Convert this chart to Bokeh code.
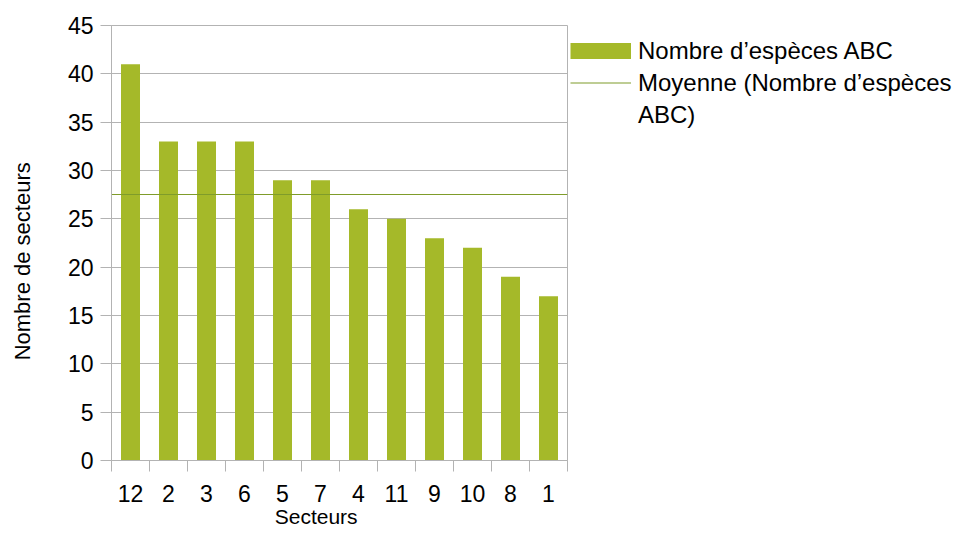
from bokeh.plotting import figure
from bokeh.models import Range1d, LinearAxis, FixedTicker, Legend, LegendItem
from bokeh.embed import file_html
from bokeh.resources import INLINE
import numpy as np

secteurs = ["12", "2", "3", "6", "5", "7", "4", "11", "9", "10", "8", "1"]
especes = [41, 33, 33, 33, 29, 29, 26, 25, 23, 22, 19, 17]
y_ticks = [0, 5, 10, 15, 20, 25, 30, 35, 40, 45]
serie_label = "Nombre d\u2019esp\u00e8ces ABC"
moyenne_label_1 = "Moyenne (Nombre d\u2019esp\u00e8ces"
moyenne_label_2 = "ABC)"
x_title = "Secteurs"
y_title = "Nombre de secteurs"

BAR = "#a5b929"
MEAN = "#7f9c2a"
GRID = "#b3b3b3"
FONT = "Liberation Sans"
NBSP = "\u00a0"

n = len(secteurs)
moyenne = float(np.mean(especes))

p = figure(frame_width=456, frame_height=435, x_range=secteurs, y_range=Range1d(0, 45),
           output_backend="svg", toolbar_location=None, x_axis_location=None,
           min_border_left=111, min_border_right=393, min_border_top=25,
           min_border_bottom=75)
p.outline_line_color = GRID
p.background_fill_color = "white"
p.border_fill_color = "white"

bars = p.vbar(x=secteurs, top=especes, width=0.5, fill_color=BAR, line_color=None)
p.hspan(y=[moyenne], line_color=MEAN, line_width=1.2)

# legend proxies (single point: nothing drawn in the plot itself)
bar_proxy = p.line(x=secteurs[:1], y=[moyenne], line_color=BAR, line_width=16, line_cap="butt")
mean_proxy = p.line(x=secteurs[:1], y=[moyenne], line_color=MEAN, line_width=1.2)
blank_proxy = p.line(x=secteurs[:1], y=[moyenne], line_alpha=0)

# x axis: labels at category centres, tick marks at category boundaries
# (synthetic coordinates of the factor range: factor i is centred at i + 0.5)
xaxis = LinearAxis(
    ticker=FixedTicker(ticks=[i + 0.5 for i in range(n)], minor_ticks=list(range(n + 1))),
    major_label_overrides={i + 0.5: s for i, s in enumerate(secteurs)},
    major_tick_out=0, major_tick_in=0,
    minor_tick_out=11, minor_tick_in=0,
    minor_tick_line_color=GRID, axis_line_color=GRID,
    major_label_standoff=13,
    major_label_text_font=FONT, major_label_text_font_size="23px",
    major_label_text_color="black",
    axis_label=x_title + NBSP * 8, axis_label_standoff=0,
    axis_label_text_font=FONT, axis_label_text_font_size="21px",
    axis_label_text_font_style="normal", axis_label_text_color="black",
)
p.add_layout(xaxis, "below")

for g in p.xgrid:
    g.visible = False

p.yaxis.ticker = FixedTicker(ticks=y_ticks)
p.yaxis.major_tick_out = 11
p.yaxis.major_tick_in = 0
p.yaxis.minor_tick_line_color = None
p.yaxis.axis_line_color = GRID
p.yaxis.major_tick_line_color = GRID
p.yaxis.major_label_standoff = 7
p.yaxis.major_label_text_font = FONT
p.yaxis.major_label_text_font_size = "23px"
p.yaxis.major_label_text_color = "black"
p.yaxis.axis_label = y_title + NBSP * 6
p.yaxis.axis_label_standoff = 30
p.yaxis.axis_label_text_font = FONT
p.yaxis.axis_label_text_font_size = "22px"
p.yaxis.axis_label_text_font_style = "normal"
p.yaxis.axis_label_text_color = "black"
p.ygrid.grid_line_color = GRID
p.ygrid.ticker = FixedTicker(ticks=y_ticks)

legend = Legend(items=[
    LegendItem(label=serie_label, renderers=[bar_proxy]),
    LegendItem(label=moyenne_label_1, renderers=[mean_proxy]),
    LegendItem(label=moyenne_label_2, renderers=[blank_proxy]),
], location="top_left", glyph_width=61, glyph_height=31, label_standoff=7,
    spacing=1, label_height=31, padding=0, margin=3,
    title=NBSP, title_text_font_size="1px", title_standoff=6,
    border_line_color=None, background_fill_alpha=0,
    label_text_font=FONT, label_text_font_size="24px", label_text_color="black")
p.add_layout(legend, "right")

open("out.html", "w").write(file_html(p, INLINE))
